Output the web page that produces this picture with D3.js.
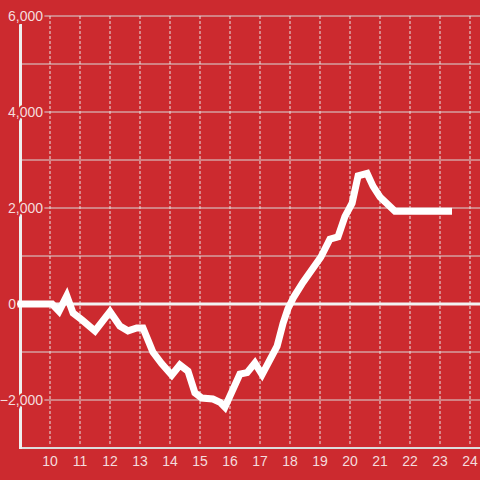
<!DOCTYPE html>
<html>
<head>
<meta charset="utf-8">
<script src="https://cdn.jsdelivr.net/npm/d3@7"></script>
<style>
  html, body { margin: 0; padding: 0; background: #cc2a2f; }
  svg { display: block; }
  text { font-family: "Liberation Sans", Arial, sans-serif; }
</style>
</head>
<body>
<svg id="chart" width="480" height="480"></svg>
<script>
// hours (x) and values (y)
const hours = [8.92, 10.07, 10.30, 10.56, 10.77, 11.06, 11.5, 12.0, 12.33, 12.6, 12.89, 13.1,
  13.43, 13.72, 14.06, 14.33, 14.6, 14.83, 15.06, 15.43, 15.67, 15.83, 16.33, 16.57, 16.83,
  17.07, 17.57, 17.77, 17.93, 18.13, 18.43, 18.77, 19.03, 19.33, 19.6, 19.83, 20.07, 20.27,
  20.57, 20.77, 21.0, 21.5, 23.4];
const values = [0, 0, -150, 170, -190, -330, -560, -160, -460, -560, -500, -500,
  -1000, -1240, -1480, -1270, -1400, -1850, -1960, -1980, -2050, -2150, -1460, -1430, -1230,
  -1470, -880, -400, -100, 150, 450, 750, 980, 1350, 1400, 1820, 2100, 2670,
  2720, 2450, 2230, 1930, 1930];
const xTicks = [10, 11, 12, 13, 14, 15, 16, 17, 18, 19, 20, 21, 22, 23, 24];
const yGrid = [-2000, -1000, 1000, 2000, 3000, 4000, 5000, 6000];
const yLabels = [-2000, 0, 2000, 4000, 6000];

const W = 480, H = 480;
const svg = d3.select("#chart");
svg.append("rect").attr("width", W).attr("height", H).attr("fill", "#cc2a2f");

const x = d3.scaleLinear().domain([10, 24]).range([50, 470]);
const y = d3.scaleLinear().domain([-3000, 6000]).range([448, 16]);

const fmt = d3.format(",");

// horizontal gridlines
svg.append("g").selectAll("line").data(yGrid).join("line")
  .attr("x1", 21).attr("x2", W)
  .attr("y1", d => y(d)).attr("y2", d => y(d))
  .attr("stroke", "#d9d9d9").attr("stroke-width", 1);

// vertical dotted gridlines
svg.append("g").selectAll("line").data(xTicks).join("line")
  .attr("x1", d => x(d)).attr("x2", d => x(d))
  .attr("y1", y(6000)).attr("y2", 446)
  .attr("stroke", "#e6e6e6").attr("stroke-width", 1)
  .attr("stroke-dasharray", "3,2");

// bottom axis line
svg.append("line").attr("x1", 21).attr("x2", W).attr("y1", 448).attr("y2", 448)
  .attr("stroke", "#dcdcdc").attr("stroke-width", 2);

// y axis line
svg.append("line").attr("x1", 20.5).attr("x2", 20.5).attr("y1", 24).attr("y2", 449)
  .attr("stroke", "#efefef").attr("stroke-width", 3);

// zero line
svg.append("line").attr("x1", 17).attr("x2", W).attr("y1", y(0)).attr("y2", y(0))
  .attr("stroke", "#f2f2f2").attr("stroke-width", 3);

// data line
const pts = hours.map((h, i) => [h, values[i]]);
svg.append("path").datum(pts)
  .attr("d", d3.line().x(d => x(d[0])).y(d => y(d[1])))
  .attr("fill", "none").attr("stroke", "#ffffff").attr("stroke-width", 7)
  .attr("stroke-linejoin", "miter").attr("stroke-linecap", "butt");

// y labels with halo
svg.append("g").selectAll("text").data(yLabels).join("text")
  .attr("x", d => d === 0 ? 16 : 43).attr("y", d => y(d))
  .attr("dy", "0.35em")
  .attr("text-anchor", "end")
  .attr("font-size", 14)
  .attr("fill", "#f4dcdd")
  .attr("stroke", "#cc2a2f").attr("stroke-width", d => d === 0 ? 0 : 4)
  .attr("paint-order", "stroke")
  .text(d => fmt(d));

// x labels
svg.append("g").selectAll("text").data(xTicks).join("text")
  .attr("x", d => x(d)).attr("y", 466)
  .attr("text-anchor", "middle")
  .attr("font-size", 14)
  .attr("fill", "#f4dcdd")
  .text(d => d);
</script>
</body>
</html>
